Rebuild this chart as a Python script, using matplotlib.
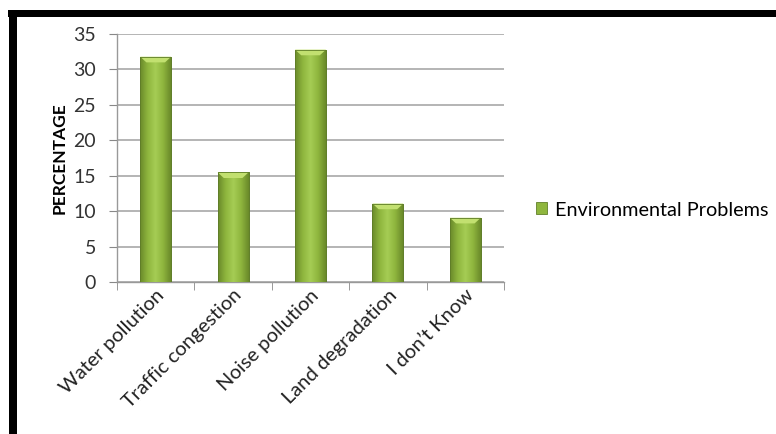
import matplotlib.pyplot as plt
import matplotlib.patches as patches
import numpy as np
from matplotlib import rcParams
from matplotlib.colors import LinearSegmentedColormap

rcParams['font.family'] = ['Lato', 'DejaVu Sans']

categories = ['Water pollution', 'Traffic congestion', 'Noise pollution',
              'Land degradation', 'I don\u2019t Know']
values = [31.8, 15.5, 32.8, 11.1, 9.1]
series_name = 'Environmental Problems'
y_ticks = [0, 5, 10, 15, 20, 25, 30, 35]

W, H = 776, 434
fig = plt.figure(figsize=(W / 100, H / 100), dpi=100)
ax = fig.add_axes([117 / W, 151.7 / H, 387 / W, 248.3 / H])

# horizontal gradient for the bars (dark edges, light middle)
cmap = LinearSegmentedColormap.from_list(
    'bar', ['#6a8a2a', '#8fb63e', '#a6cd55', '#8fb63e', '#6a8a2a'])
grad = np.linspace(0, 1, 64).reshape(1, -1)

x = np.arange(len(categories))
bars = ax.bar(x, values, width=0.4, color='#94bc44', edgecolor='#61802a',
              linewidth=0.6, zorder=3)
for b in bars:
    x0, y0 = b.get_x(), b.get_y()
    w, h = b.get_width(), b.get_height()
    im = ax.imshow(grad, cmap=cmap, aspect='auto',
                   extent=(x0, x0 + w, y0, y0 + h), zorder=3.1)
    im.set_clip_path(b)
    # light bevel at the top of the bar
    cap = patches.Polygon([(x0, y0 + h), (x0 + w, y0 + h),
                           (x0 + w * 0.8, y0 + h - 0.8),
                           (x0 + w * 0.2, y0 + h - 0.8)],
                          closed=True, fc='#c2e070', ec='none', zorder=3.2)
    ax.add_patch(cap)
    ax.add_patch(patches.Rectangle((x0, y0), w, h, fc='none',
                                   ec='#5e7c28', lw=0.6, zorder=3.3))

ax.set_xlim(-0.5, len(categories) - 0.5)
ax.set_ylim(0, 35)
ax.set_yticks(y_ticks)
ax.tick_params(axis='y', labelsize=14, colors='#888888', length=6,
               labelcolor='#333333', pad=9)
ax.set_xticks(x)
ax.set_xticklabels(categories, rotation=45, ha='right',
                   rotation_mode='anchor', fontsize=14.5, color='#222222')
ax.tick_params(axis='x', length=0, pad=3)
ax.set_xticks(np.arange(len(categories) + 1) - 0.5, minor=True)
ax.tick_params(axis='x', which='minor', length=6, color='#888888')

ax.grid(axis='y', color='#a8a8a8', lw=1.2, zorder=0)
for s in ['top', 'right']:
    ax.spines[s].set_visible(False)
for s in ['left', 'bottom']:
    ax.spines[s].set_color('#999999')
    ax.spines[s].set_linewidth(1.0)

ax.set_ylabel('PERCENTAGE', fontsize=12.5, fontweight='bold', labelpad=4)

# legend
leg_handle = patches.Patch(fc='#8fb63e', ec='#61802a', lw=0.6)
ax.legend([leg_handle], [series_name], loc='center left',
          bbox_to_anchor=(536 / W, 224 / H), bbox_transform=fig.transFigure,
          frameon=False, fontsize=14.3, handlelength=0.55, handleheight=0.55,
          handletextpad=0.4, borderpad=0, borderaxespad=0)

# black frame pieces (top and left)
fig.patches.append(patches.Rectangle((8 / W, 1 - 17.3 / H), 1, 7.3 / H,
                                     transform=fig.transFigure,
                                     fc='black', ec='none'))
fig.patches.append(patches.Rectangle((9 / W, 0), 7.7 / W, 1 - 10 / H,
                                     transform=fig.transFigure,
                                     fc='black', ec='none'))

fig.savefig('out.png', dpi=100)
